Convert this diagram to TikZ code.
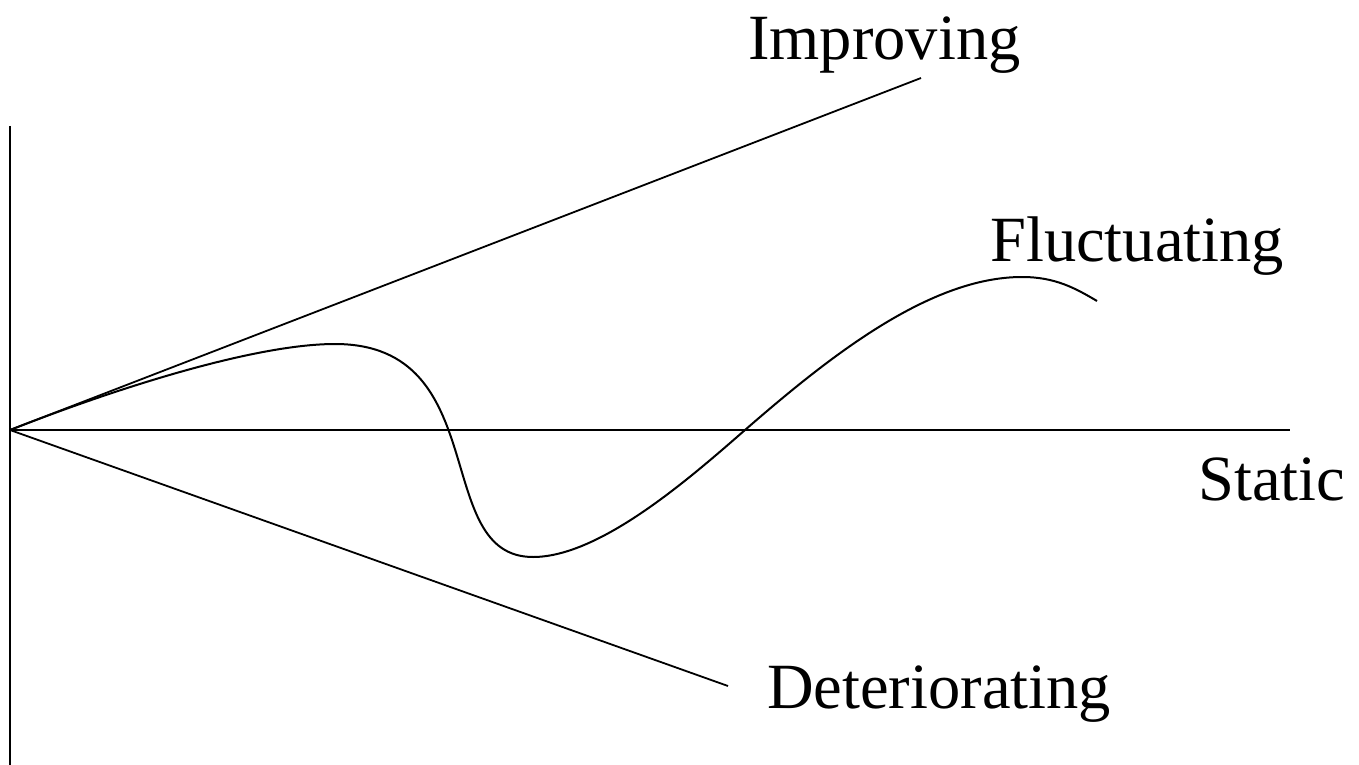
\documentclass[tikz,border=0pt]{standalone}
\usepackage{fontspec}
\setmainfont{Liberation Serif}
\begin{document}
\begin{tikzpicture}[x=1pt,y=-1pt,
  axisline/.style={line width=1.9pt,black},
  trendline/.style={line width=1.8pt,black},
  curveline/.style={line width=2pt,black},
  lbl/.style={inner sep=0pt,anchor=base west,font=\fontsize{64.5}{70}\selectfont}]
\useasboundingbox (0,0) rectangle (1359,765);
% coordinates
\coordinate (origin) at (10,430);
\coordinate (ytop) at (10,126);
\coordinate (ybot) at (10,765);
\coordinate (xend) at (1290,430);
\coordinate (impend) at (921,78);
\coordinate (detend) at (728,686);
\coordinate (p1) at (335,344);
\coordinate (m1) at (533,557);
\coordinate (c1) at (745,430);
\coordinate (p2) at (1022,277);
\coordinate (fend) at (1097,301);
% axes
\draw[axisline] (ytop) -- (ybot);
\draw[axisline] (origin) -- (xend);
% trends
\draw[trendline] (origin) -- (impend);
\draw[trendline] (origin) -- (detend);
\draw[curveline] (origin) .. controls (130,383) and (260,344) .. (p1)
  .. controls (495,344) and (430,557) .. (m1)
  .. controls (600,557) and (690,478) .. (c1)
  .. controls (830,356) and (930,277) .. (p2)
  .. controls (1055,277) and (1075,288) .. (fend);
% labels
\node[lbl] (improving) at (748,60) {Improving};
\node[lbl] (fluct) at (990,261) {Fluctuating};
\node[lbl] (static) at (1198,500) {Static};
\node[lbl] (deter) at (767,708) {Deteriorating};
\end{tikzpicture}
\end{document}
